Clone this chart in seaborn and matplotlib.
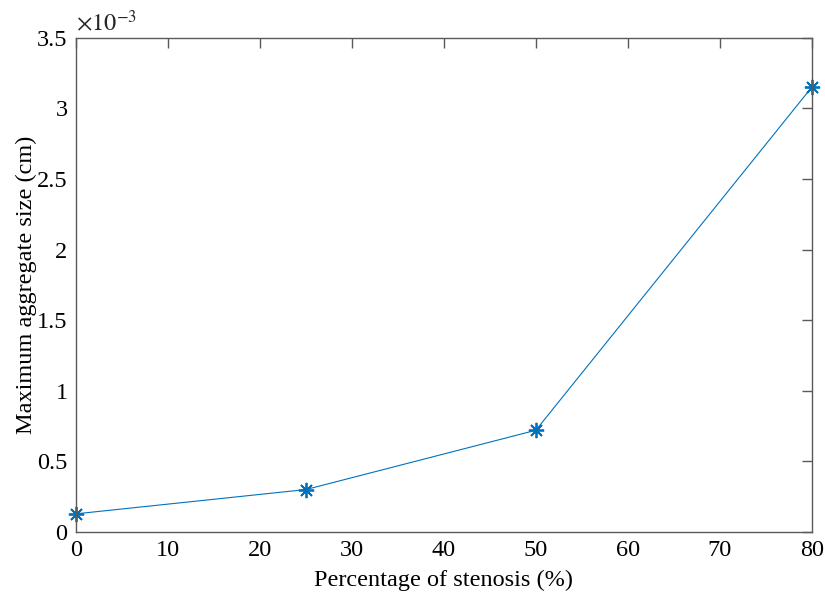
import matplotlib
matplotlib.use("Agg")
import matplotlib.pyplot as plt
import seaborn as sns
import pandas as pd
from matplotlib.ticker import FuncFormatter, MultipleLocator

stenosis = [0, 25, 50, 80]
max_size = [0.128e-3, 0.300e-3, 0.720e-3, 3.150e-3]

df = pd.DataFrame({"stenosis": stenosis, "size": max_size})

sns.set_theme(style="white")
plt.rcParams["font.family"] = ["Liberation Serif", "DejaVu Serif"]
plt.rcParams["mathtext.fontset"] = "stix"

fig = plt.figure(figsize=(8.25, 5.99), dpi=100)
ax = fig.add_axes([0.092, 0.112, 0.892, 0.825])

sns.lineplot(data=df, x="stenosis", y="size", ax=ax, color="#0072BD",
             linewidth=0.8, marker=(8, 2, 0), markersize=11,
             markeredgewidth=1.3, clip_on=False,
             markeredgecolor="#0072BD", markerfacecolor="#0072BD")

ax.set_xlim(0, 80)
ax.set_ylim(0, 3.5e-3)
ax.xaxis.set_major_locator(MultipleLocator(10))
ax.yaxis.set_major_locator(MultipleLocator(0.5e-3))
ax.yaxis.set_major_formatter(FuncFormatter(lambda v, p: f"{v*1e3:g}"))

axcol = "#5a5a5a"
for s in ax.spines.values():
    s.set_color(axcol)
    s.set_linewidth(1.0)
    s.set_visible(True)
ax.tick_params(direction="in", top=True, right=True, length=7, width=1.0,
               color=axcol, labelsize=17.5, labelcolor="black", pad=6)

ax.set_xlabel("Percentage of stenosis (%)", fontsize=17.5, color="black", labelpad=6)
ax.set_ylabel("Maximum aggregate size (cm)", fontsize=17.5, color="black", labelpad=0)

ax.text(0.0, 1.005, r"$\times 10^{-3}$", transform=ax.transAxes, fontsize=17.5,
        ha="left", va="bottom")

fig.savefig("out.png", dpi=100)
